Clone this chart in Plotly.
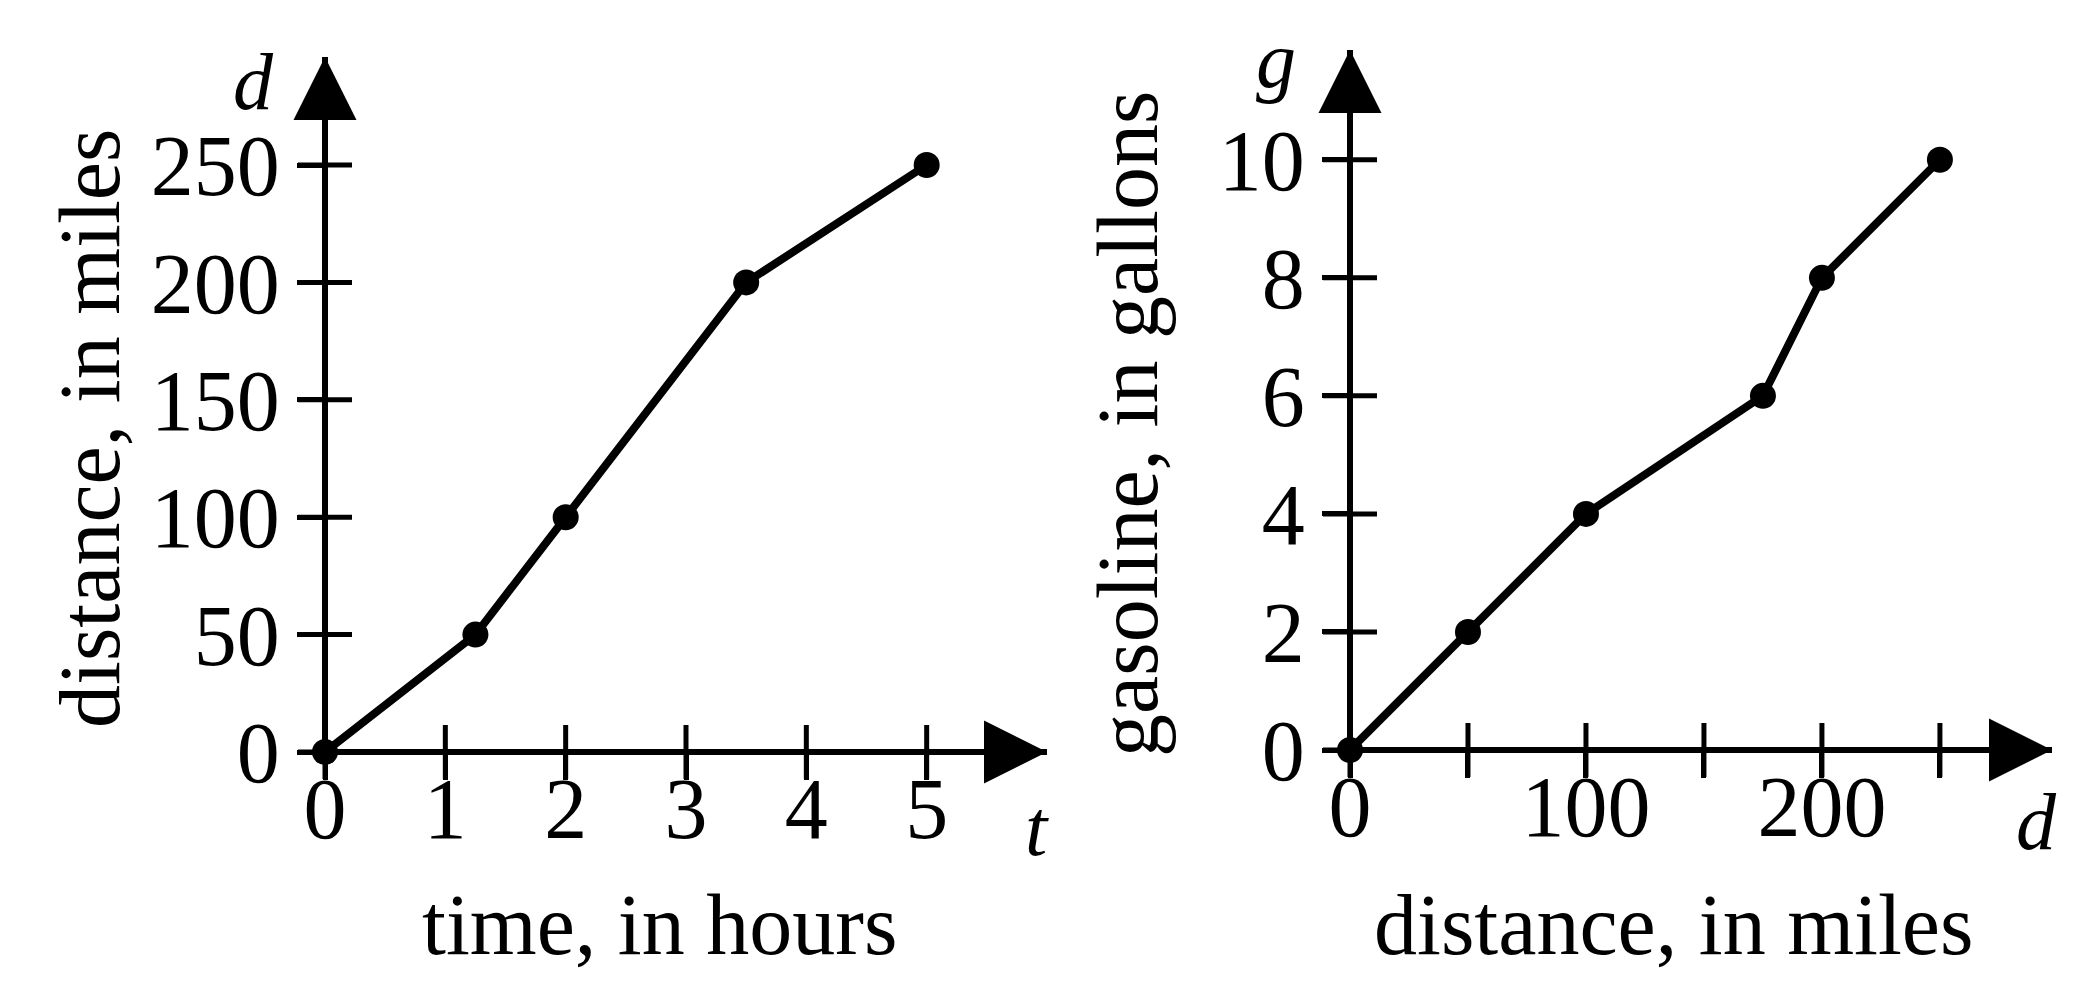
import plotly.graph_objects as go

# ---------------- data ----------------
t_hours = [0, 1.25, 2, 3.5, 5]
d_trip_miles = [0, 50, 100, 200, 250]

d_miles = [0, 50, 100, 175, 200, 250]
g_gallons = [0, 2, 4, 6, 8, 10]

left_xticks = [0, 1, 2, 3, 4, 5]
left_yticks = [0, 50, 100, 150, 200, 250]
right_xticks = [0, 50, 100, 150, 200, 250]
right_xticktext = ["0", "", "100", "", "200", ""]
right_yticks = [0, 2, 4, 6, 8, 10]

# ---------------- geometry / style ----------------
PAGE_W, PAGE_H = 2096, 983
OFF = 8                       # default page body margin
W, H = PAGE_W - 2 * OFF, PAGE_H - 2 * OFF
FONT = "Liberation Serif, Times New Roman, serif"
FS = 86
FS_VAR = 80
INK = "black"
AXW = 6
TICKLEN = 27
TICKW = 5


def px(x):
    return (x - OFF) / W


def py(y):
    return 1 - (y - OFF) / H


# left panel (page pixels)
L_ox, L_oy, L_tipx, L_tipy = 325, 752, 1047, 57
L_xmax, L_ymax = 6.0, 296.0
# right panel (page pixels)
R_ox, R_oy, R_tipx, R_tipy = 1350, 750, 2052, 50
R_xmax, R_ymax = 297.5, 11.86

fig = go.Figure()

# crossing tick marks (drawn on the axes at the tick values)
tick_mark = dict(color=INK, size=TICKLEN * 2 / 1.4, line=dict(color=INK, width=TICKW))
for xa, ya, xt, yt in [("x", "y", left_xticks, left_yticks),
                       ("x2", "y2", right_xticks, right_yticks)]:
    fig.add_trace(go.Scatter(
        x=xt, y=[0] * len(xt), xaxis=xa, yaxis=ya, mode="markers",
        marker=dict(symbol="line-ns-open", **tick_mark),
        cliponaxis=False, showlegend=False, hoverinfo="skip",
    ))
    fig.add_trace(go.Scatter(
        x=[0] * len(yt), y=yt, xaxis=xa, yaxis=ya, mode="markers",
        marker=dict(symbol="line-ew-open", **tick_mark),
        cliponaxis=False, showlegend=False, hoverinfo="skip",
    ))

fig.add_trace(go.Scatter(
    x=t_hours, y=d_trip_miles, xaxis="x", yaxis="y",
    mode="lines+markers", line=dict(color=INK, width=8),
    marker=dict(color=INK, size=26), cliponaxis=False, showlegend=False,
))
fig.add_trace(go.Scatter(
    x=d_miles, y=g_gallons, xaxis="x2", yaxis="y2",
    mode="lines+markers", line=dict(color=INK, width=8),
    marker=dict(color=INK, size=26), cliponaxis=False, showlegend=False,
))

tickfont = dict(family=FONT, size=FS, color=INK)


def main_axis(domain, rng, anchor, tickvals, ticktext=None, standoff=0):
    d = dict(
        domain=domain, range=rng, anchor=anchor, tickmode="array",
        tickvals=tickvals, ticks="outside", ticklen=TICKLEN, tickwidth=TICKW,
        tickcolor=INK, showgrid=False, showline=False, zeroline=True,
        zerolinecolor=INK, zerolinewidth=AXW, tickfont=tickfont,
        fixedrange=True, automargin=False, ticklabelstandoff=standoff,
    )
    if ticktext is not None:
        d["ticktext"] = ticktext
    return d


fig.update_layout(
    width=W, height=H,
    margin=dict(l=0, r=0, t=0, b=0, pad=0, autoexpand=False),
    paper_bgcolor="white", plot_bgcolor="rgba(0,0,0,0)",
    showlegend=False,
    xaxis=main_axis([px(L_ox), px(L_tipx)], [0, L_xmax], "y", left_xticks, standoff=-45),
    yaxis=main_axis([py(L_oy), py(L_tipy)], [0, L_ymax], "x", left_yticks),
    xaxis2=main_axis([px(R_ox), px(R_tipx)], [0, R_xmax], "y2", right_xticks,
                     right_xticktext, standoff=-45),
    yaxis2=main_axis([py(R_oy), py(R_tipy)], [0, R_ymax], "x2", right_yticks),
)

ann = []
# axis arrowheads
for xr, yr, xend in [("x", "y", L_xmax), ("x2", "y2", R_xmax)]:
    ann.append(dict(x=xend, y=0, xref=xr, yref=yr, ax=-90, ay=0, text="",
                    showarrow=True, arrowhead=2, arrowsize=2.1, arrowwidth=AXW,
                    arrowcolor=INK))
for xr, yr, yend in [("x", "y", L_ymax), ("x2", "y2", R_ymax)]:
    ann.append(dict(x=0, y=yend, xref=xr, yref=yr, ax=0, ay=90, text="",
                    showarrow=True, arrowhead=2, arrowsize=2.1, arrowwidth=AXW,
                    arrowcolor=INK))


def label(text, x, y, angle=0, size=FS):
    ann.append(dict(text=text, x=px(x), y=py(y), xref="paper", yref="paper",
                    showarrow=False, xanchor="center", yanchor="middle",
                    textangle=angle, font=dict(family=FONT, size=size, color=INK)))


# axis variable letters
label("<i>d</i>", 253, 82, size=FS_VAR)
label("<i>t</i>", 1037, 828, size=FS_VAR)
label("<i>g</i>", 1276, 60, size=FS_VAR)
label("<i>d</i>", 2036, 822, size=FS_VAR)
# axis titles
label("time, in hours", 659, 925)
label("distance, in miles", 1673, 925)
label("distance, in miles", 90, 429, -90)
label("gasoline, in gallons", 1128, 424, -90)

fig.update_layout(annotations=ann)

fig.write_html("out.html")
